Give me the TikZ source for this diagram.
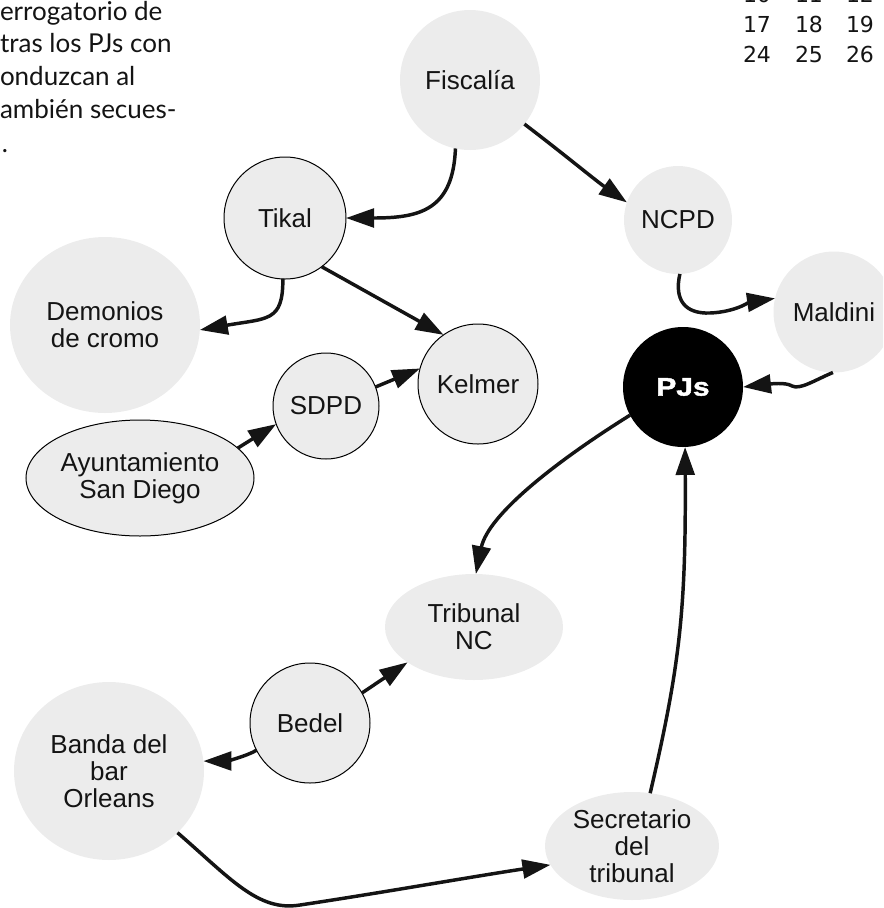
\documentclass[tikz,border=0pt]{standalone}
\usepackage{fontspec}
\setmainfont{Liberation Sans}
\newfontfamily\bodyfont{Lato}
\newfontfamily\calfont{DejaVu Sans}
\newfontfamily\pjsfont{Liberation Sans}[BoldFeatures={FakeBold=1.6}]
\usetikzlibrary{arrows.meta,shapes.geometric}
\definecolor{nodefill}{RGB}{236,236,236}
\definecolor{inkcol}{RGB}{20,20,20}
\begin{document}
\begin{tikzpicture}[x=0.75pt,y=-0.75pt,
  every node/.style={inner sep=0pt, outer sep=0pt},
  lbl/.style={font=\fontsize{19.5}{20.25}\selectfont, text=inkcol, align=center},
  plain/.style={circle, fill=nodefill, lbl},
  ring/.style={plain, draw=black, line width=0.75pt},
  oval/.style={ellipse, fill=nodefill, lbl},
  ringoval/.style={oval, draw=black, line width=0.75pt},
  pagetext/.style={anchor=base west, font=\bodyfont\fontsize{19.5}{22}\selectfont, text=inkcol},
  caltext/.style={anchor=base west, font=\calfont\fontsize{16.5}{18}\selectfont, text=inkcol},
  link/.style={line width=2.6pt, draw=inkcol, -{Triangle[length=21pt,width=14pt]}},
]
\useasboundingbox (0,0) rectangle (883,908);
\clip (0,0) rectangle (883,908);

% page text fragments
\node[pagetext] (t1) at (0,20) {errogatorio de};
\node[pagetext] (t2) at (0,52) {tras los PJs con};
\node[pagetext] (t3) at (0,85) {onduzcan al};
\node[pagetext] (t4) at (0,118) {ambién secues-};
\node[pagetext] (t5) at (2,152) {.};

% calendar fragment
\node[caltext] (c10) at (743,2.5) {10};
\node[caltext] (c11) at (795,2.5) {11};
\node[caltext] (c12) at (846,2.5) {12};
\node[caltext] (c17) at (743,32) {17};
\node[caltext] (c18) at (795,32) {18};
\node[caltext] (c19) at (846,32) {19};
\node[caltext] (c24) at (743,62) {24};
\node[caltext] (c25) at (795,62) {25};
\node[caltext] (c26) at (846,62) {26};

% nodes
\node[plain, minimum size=105pt] (fisc) at (470,80) {Fiscalía};
\node[ring, minimum size=91.5pt] (tikal) at (285,218) {Tikal};
\node[plain, minimum size=81pt] (ncpd) at (678,220) {NCPD};
\node[plain, minimum size=90.75pt] (maldini) at (834,312) {Maldini};
\node[circle, fill=black, minimum size=90pt] (pjs) at (683,387)
  {\scalebox{1.18}[1]{\pjsfont\fontsize{19}{20}\bfseries\color{white}PJs}};
\node[oval, minimum width=142.5pt, minimum height=132pt] (demon) at (105,325) {Demonios\\de cromo};
\node[ring, minimum size=79.5pt] (sdpd) at (326,406) {SDPD};
\node[ring, minimum size=90pt] (kelmer) at (478,384) {Kelmer};
\node[ringoval, minimum width=171pt, minimum height=87pt] (ayunt) at (140,478) {Ayuntamiento\\San Diego};
\node[oval, minimum width=133.5pt, minimum height=79.5pt] (tribnc) at (474,627) {Tribunal\\NC};
\node[oval, minimum width=130.5pt, minimum height=81pt] (secr) at (632,846) {Secretario\\del\\tribunal};
\node[ring, minimum size=90pt] (bedel) at (310,723) {Bedel};
\node[oval, minimum width=142.5pt, minimum height=133.5pt] (banda) at (109,771) {Banda del\\bar\\Orleans};

% connectors
\draw[link] (fisc.-102) .. controls (453,210) and (420,218) .. (tikal.0);
\draw[link] (fisc.-39) .. controls (565,155) and (595,180) .. (ncpd.161);
\draw[link] (tikal.-92) .. controls (283,322) and (268,318) .. (demon.-3);
\draw[link] (tikal.-53) -- (kelmer.125);
\draw[link] (sdpd.21) -- (kelmer.165);
\draw[link] (ayunt.17) -- (sdpd.200);
\draw[link] (ncpd.-88) .. controls (674,300) and (685,314) .. (710,313)
  .. controls (735,312) and (750,302) .. (maldini.167);
\draw[link] (maldini.-91) .. controls (815,380) and (800,390) .. (792,386)
  .. controls (786,382) and (770,384) .. (pjs.0);
\draw[link] (pjs.-152) .. controls (555,462) and (488,515) .. (tribnc.88);
\draw[link] (secr.71) .. controls (680,665) and (686,610) .. (pjs.-88);
\draw[link] (bedel.30) -- (tribnc.-152);
\draw[link] (bedel.-153) .. controls (245,757) and (225,761) .. (banda.6);
\draw[link] (banda.-42) .. controls (230,878) and (258,912) .. (300,905)
  .. controls (380,893) and (470,877) .. (secr.-167);
\end{tikzpicture}
\end{document}
